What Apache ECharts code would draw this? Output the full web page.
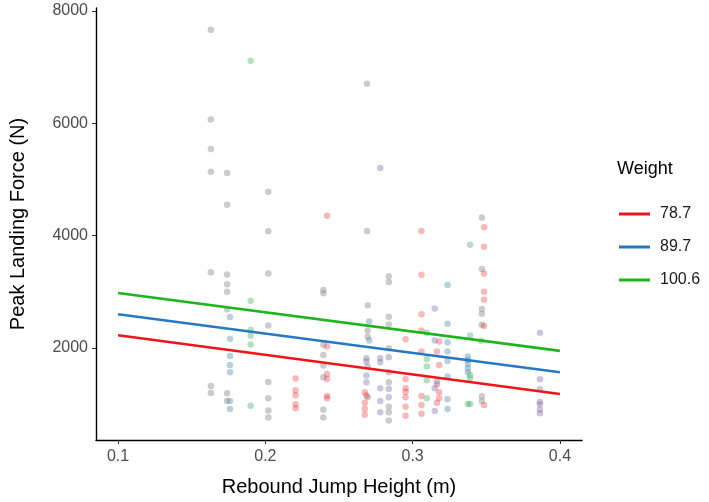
<!DOCTYPE html>
<html>
<head>
<meta charset="utf-8">
<script src="https://cdn.jsdelivr.net/npm/echarts@6/dist/echarts.min.js"></script>
<style>
html, body { margin: 0; padding: 0; background: #fff; }
#main { width: 709px; height: 502px; }
</style>
</head>
<body>
<div id="main"></div>
<script>
// scatter points [jump height (m), peak landing force (N)] by colour group
var greyPts = [[0.163,7664],[0.269,6703],[0.163,6065],[0.163,5540],[0.163,5133],[0.174,5115],[0.202,4779],[0.174,4549],[0.347,4320],[0.269,4081],[0.202,4078],
	[0.163,3344],[0.174,3308],[0.174,3131],[0.174,3000],[0.174,2686],[0.163,1321],[0.163,1196],[0.174,1191],[0.174,1053],
	[0.202,3326],[0.202,2400],[0.202,1393],[0.202,1102],[0.202,887],[0.202,762],
	[0.2394,3030],[0.2394,2971],[0.2394,2054],[0.2394,1875],[0.2394,1686],[0.2394,1477],[0.2394,900],[0.2394,762],
	[0.2838,3273],[0.2838,3171],[0.2695,2757],[0.2838,2554],[0.2838,2418],[0.2695,2311],[0.2695,2197],[0.2838,1995],[0.2695,1668],
	[0.2838,1387],[0.2695,1120],[0.2838,953],[0.2838,852],[0.2838,709],
	[0.347,3402],[0.347,2691],[0.347,2607],[0.347,2411],[0.347,1137],[0.347,1053]];
var redPts = [[0.2419,4354],[0.306,4081],[0.3486,4149],[0.306,3300],[0.306,2600],[0.3485,3800],[0.3485,3325],[0.3485,3000],[0.3485,2857],[0.3485,2388],[0.3485,982],
	[0.2419,2025],[0.2419,1536],[0.2419,1446],[0.2419,1143],[0.2419,1102],
	[0.2205,1454],[0.2205,1245],[0.2205,1155],[0.2205,995],[0.2205,923],
	[0.2952,2155],[0.306,2311],[0.318,2114],[0.306,1936],[0.3165,1936],[0.318,1696],[0.2952,1446],[0.3165,1346],[0.2952,1280],[0.2952,1221],
	[0.2675,1209],[0.2686,1150],[0.318,1209],[0.318,1102],[0.306,1143],[0.2952,1120],[0.3165,1025],[0.2675,1025],[0.2952,953],[0.306,982],
	[0.2675,911],[0.2675,811],[0.2952,793],[0.306,828]];
var bluePts = [[0.3237,3118],[0.176,2548],[0.176,2161],[0.176,1857],[0.176,1696],[0.176,1566],[0.176,1053],[0.176,911],
	[0.2705,2471],[0.3237,2429],[0.2705,2132],[0.3237,2102],[0.3237,1936],[0.3237,1768],[0.3237,1489],[0.3237,1084],[0.3237,911],
	[0.3375,1846],[0.3375,1786],[0.3375,1714],[0.3375,1637],[0.3375,1566]];
var greenPts = [[0.190,7110],[0.190,2839],[0.190,2316],[0.190,2214],[0.190,2061],[0.190,971],[0.339,3836],
	[0.3096,2268],[0.3096,1804],[0.3096,1668],[0.3096,1423],[0.3096,1102],[0.339,2221],[0.3465,2125],[0.339,1518],[0.339,1459],[0.3375,1000],[0.339,1000]];
var purplePts = [[0.278,5200],[0.315,2703],[0.315,2132],[0.2686,1816],[0.2686,1757],[0.278,1816],[0.278,1745],[0.2838,1834],[0.2686,1507],[0.2838,1566],
	[0.3165,1400],[0.2686,1387],[0.278,1280],[0.2838,1268],[0.315,1280],[0.2838,1120],[0.278,1053],[0.278,852],[0.315,875],
	[0.3864,2268],[0.3864,1441],[0.3864,1262],[0.3864,1043],[0.3864,995],[0.3864,905],[0.3864,834]];

// fitted lines at each weight
var lineX = [0.1, 0.4];
var weights = ['78.7', '89.7', '100.6'];
var fit787 = [2226, 1180];
var fit897 = [2598, 1566];
var fit1006 = [2976, 1946];

var xTicks = [0.1, 0.2, 0.3, 0.4];
var yTicks = [2000, 4000, 6000, 8000];

var fontName = 'Liberation Sans';
var chart = echarts.init(document.getElementById('main'));

function pair(ys) {
	return lineX.map(function(x, i) { return [x, ys[i]]; });
}
function dots(pts, col) {
	return {
		type: 'scatter', data: pts, symbolSize: 6.5, silent: true,
		itemStyle: { color: col }, z: 2
	};
}
function fitLine(name, ys, col) {
	return {
		type: 'line', name: name, data: pair(ys), symbol: 'none', silent: true,
		lineStyle: { color: col, width: 2.6 }, itemStyle: { color: col }, z: 3
	};
}

var option = {
	animation: false,
	backgroundColor: '#fff',
	textStyle: { fontFamily: fontName },
	title: {
		text: 'Weight', left: 612, top: 155,
		textStyle: { fontFamily: fontName, fontSize: 18, fontWeight: 'normal', color: '#000' }
	},
	legend: {
		orient: 'vertical', left: 614, top: 201,
		data: weights, icon: 'rect', itemWidth: 31, itemHeight: 3, itemGap: 17,
		textStyle: { fontFamily: fontName, fontSize: 16, color: '#1a1a1a', padding: [0, 0, 0, 5] }
	},
	grid: { left: 95, right: 127, top: 8, bottom: 60 },
	xAxis: {
		type: 'value', min: 0.085, max: 0.415,
		name: 'Rebound Jump Height (m)', nameLocation: 'middle', nameGap: 37,
		nameTextStyle: { fontFamily: fontName, fontSize: 20, color: '#000' },
		axisLine: { show: true, lineStyle: { color: '#000', width: 1.4 } },
		axisTick: { show: true, length: 4, customValues: xTicks, lineStyle: { color: '#333' } },
		axisLabel: { customValues: xTicks, fontSize: 16, color: '#4d4d4d', margin: 9 },
		splitLine: { show: false }
	},
	yAxis: {
		type: 'value', min: 360, max: 8050,
		name: 'Peak Landing Force (N)', nameLocation: 'middle', nameGap: 68, nameRotate: 90,
		nameTextStyle: { fontFamily: fontName, fontSize: 20, color: '#000' },
		axisLine: { show: true, lineStyle: { color: '#000', width: 1.4 } },
		axisTick: { show: true, length: 4, customValues: yTicks, lineStyle: { color: '#333' } },
		axisLabel: { customValues: yTicks, fontSize: 16, color: '#4d4d4d', margin: 8,
			formatter: function(v) { return String(v); } },
		splitLine: { show: false }
	},
	series: [
		dots(greyPts, 'rgba(140,140,140,0.55)'),
		dots(redPts, 'rgba(228,26,28,0.38)'),
		dots(bluePts, 'rgba(60,125,165,0.45)'),
		dots(greenPts, 'rgba(50,170,80,0.45)'),
		dots(purplePts, 'rgba(105,85,150,0.42)'),
		fitLine(weights[0], fit787, '#f0141a'),
		fitLine(weights[1], fit897, '#2679c0'),
		fitLine(weights[2], fit1006, '#1db41d')
	]
};
chart.setOption(option);
</script>
</body>
</html>
